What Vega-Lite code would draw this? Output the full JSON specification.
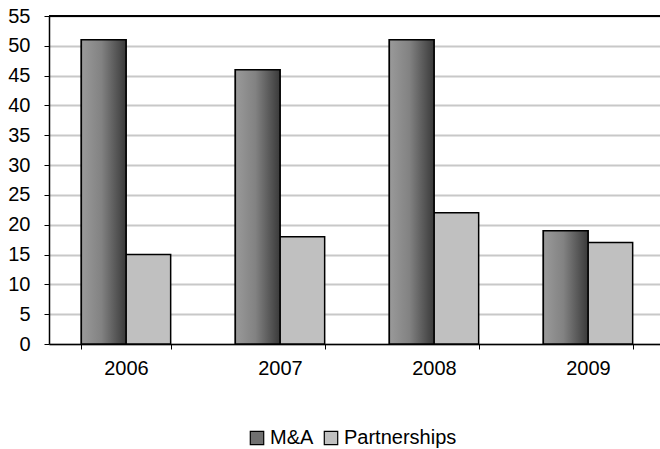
{
  "$schema": "https://vega.github.io/schema/vega-lite/v6.json",
  "width": 611,
  "height": 328,
  "autosize": {"type": "none"},
  "padding": {"left": 49, "top": 16, "right": 0, "bottom": 105},
  "background": "white",
  "config": {
    "font": "Liberation Sans",
    "view": {"stroke": null},
    "axis": {"labelFont": "Liberation Sans", "labelColor": "black", "labelFontSize": 20, "labelOverlap": false, "domainColor": "black", "domainWidth": 1.5, "tickColor": "black", "tickWidth": 1, "tickSize": 5, "title": null}
  },
  "data": {
    "values": [
      {"year": "2006", "series": "M&A", "value": 51},
      {"year": "2006", "series": "Partnerships", "value": 15},
      {"year": "2007", "series": "M&A", "value": 46},
      {"year": "2007", "series": "Partnerships", "value": 18},
      {"year": "2008", "series": "M&A", "value": 51},
      {"year": "2008", "series": "Partnerships", "value": 22},
      {"year": "2009", "series": "M&A", "value": 19},
      {"year": "2009", "series": "Partnerships", "value": 17}
    ]
  },
  "layer": [
    {
      "mark": {"type": "bar", "stroke": "black", "strokeWidth": 1.5, "opacity": 1},
      "encoding": {
        "x": {"field": "year", "type": "nominal", "scale": {"range": [0, 616], "paddingInner": 0.42, "paddingOuter": 0.21},
              "axis": {"labelAngle": 0, "tickBand": "extent", "grid": false, "labelPadding": 9}},
        "xOffset": {"field": "series", "type": "nominal", "sort": ["M&A", "Partnerships"]},
        "y": {"field": "value", "type": "quantitative", "scale": {"domain": [0, 55], "nice": false},
              "axis": {"values": [0, 5, 10, 15, 20, 25, 30, 35, 40, 45, 50, 55], "tickCount": 12, "grid": true, "gridColor": "#c8c8c8", "gridWidth": 2, "labelPadding": 14, "labelOverlap": false}},
        "color": {"field": "series", "type": "nominal",
                  "scale": {"domain": ["M&A", "Partnerships"], "range": ["#707070", "#c0c0c0"]},
                  "legend": {"title": null, "orient": "none", "legendX": 198, "legendY": 412, "direction": "horizontal",
                             "symbolType": "square", "symbolSize": 180, "symbolStrokeColor": "black", "symbolStrokeWidth": 1.2,
                             "symbolOpacity": 1, "labelFontSize": 20, "labelColor": "black", "labelFont": "Liberation Sans",
                             "columnPadding": 7, "labelOffset": 3, "labelOverlap": false}}
      }
    },
    {
      "transform": [{"filter": "datum.series === 'M&A'"}],
      "mark": {"type": "bar", "stroke": "black", "strokeWidth": 1.5,
               "fill": {"gradient": "linear", "x1": 0, "y1": 0, "x2": 1, "y2": 0,
                        "stops": [{"offset": 0, "color": "#9a9a9a"}, {"offset": 0.45, "color": "#828282"}, {"offset": 1, "color": "#3a3a3a"}]}},
      "encoding": {
        "x": {"field": "year", "type": "nominal"},
        "xOffset": {"field": "series", "type": "nominal", "sort": ["M&A", "Partnerships"]},
        "y": {"field": "value", "type": "quantitative"}
      }
    },
    {
      "mark": {"type": "rule", "color": "black", "strokeWidth": 2},
      "encoding": {"y": {"datum": 55, "type": "quantitative"}}
    }
  ]
}
